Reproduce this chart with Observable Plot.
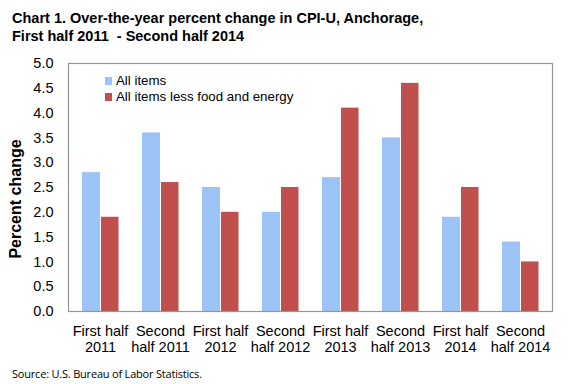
<!DOCTYPE html>
<html>
<head>
<meta charset="utf-8">
<script src="https://cdn.jsdelivr.net/npm/d3@7"></script>
<script src="https://cdn.jsdelivr.net/npm/@observablehq/plot@0.6"></script>
<style>
  html, body { margin: 0; padding: 0; background: #fff; }
  #wrap { position: relative; width: 576px; height: 384px; overflow: hidden; font-family: "Liberation Sans", Arial, sans-serif; color: #000; }
  #chart { position: absolute; left: 0; top: 0; }
  .title { position: absolute; left: 12px; top: 10px; font-weight: bold; font-size: 14.5px; line-height: 17.5px; white-space: nowrap; }
  .ylab { position: absolute; left: 16px; top: 199px; transform: translate(-50%, -50%) rotate(-90deg); font-weight: bold; font-size: 16px; white-space: nowrap; }
  .legend { position: absolute; left: 105px; top: 73px; font-size: 13.3px; line-height: 16px; }
  .legend div { position: relative; padding-left: 11px; white-space: nowrap; }
  .legend span { position: absolute; left: 0; top: 4px; width: 7px; height: 8px; }
  .source { position: absolute; left: 12px; top: 366px; font-family: "Open Sans", sans-serif; font-size: 11px; letter-spacing: -0.2px; white-space: nowrap; }
</style>
</head>
<body>
<div id="wrap">
  <div id="chart"></div>
  <div class="title">Chart 1. Over-the-year percent change in CPI-U, Anchorage,<br>First half 2011&nbsp; - Second half 2014</div>
  <div class="ylab">Percent change</div>
  <div class="legend" id="legend"></div>
  <div class="source">Source: U.S. Bureau of Labor Statistics.</div>
</div>
<script>
const periods = ["First half 2011", "Second half 2011", "First half 2012", "Second half 2012",
                 "First half 2013", "Second half 2013", "First half 2014", "Second half 2014"];
const periodLabels = ["First half\n2011", "Second\nhalf 2011", "First half\n2012", "Second\nhalf 2012",
                      "First half\n2013", "Second\nhalf 2013", "First half\n2014", "Second\nhalf 2014"];
const seriesNames = ["All items", "All items less food and energy"];
const allItems = [2.8, 3.6, 2.5, 2.0, 2.7, 3.5, 1.9, 1.4];
const coreItems = [1.9, 2.6, 2.0, 2.5, 4.1, 4.6, 2.5, 1.0];
const yTicks = [0, 0.5, 1, 1.5, 2, 2.5, 3, 3.5, 4, 4.5, 5];
const colors = ["#9cc3f5", "#c0504d"];

const rowsAll = periods.map((p, i) => ({period: p, series: seriesNames[0], value: allItems[i]}));
const rowsCore = periods.map((p, i) => ({period: p, series: seriesNames[1], value: coreItems[i]}));
const labelOf = new Map(periods.map((p, i) => [p, periodLabels[i]]));

const chart = Plot.plot({
  width: 576,
  height: 384,
  marginTop: 63,
  marginBottom: 73,
  marginLeft: 68,
  marginRight: 24,
  style: {fontFamily: "'Liberation Sans', Arial, sans-serif", fontSize: "14.5px", color: "#000", background: "transparent"},
  x: {domain: periods, padding: 0, label: null},
  y: {domain: [0, 5], label: null},
  color: {domain: seriesNames, range: colors},
  marks: [
    Plot.barY(rowsAll, {x: "period", y: "value", fill: "series", insetLeft: 12, insetRight: 30}),
    Plot.barY(rowsCore, {x: "period", y: "value", fill: "series", insetLeft: 31, insetRight: 11.5}),
    Plot.frame({stroke: "#8c9b8c", strokeWidth: 1.2}),
    Plot.axisY({ticks: yTicks, tickFormat: d3.format(".1f"), tickSize: 0, tickPadding: 15, label: null, fontSize: 14.5}),
    Plot.axisX({tickSize: 0, tickPadding: 13, tickFormat: d => labelOf.get(d), lineHeight: 1.12, label: null, fontSize: 14.5})
  ]
});
document.getElementById("chart").appendChild(chart);

const legend = document.getElementById("legend");
seriesNames.forEach((s, i) => {
  const row = document.createElement("div");
  const sw = document.createElement("span");
  sw.style.background = colors[i];
  row.appendChild(sw);
  row.appendChild(document.createTextNode(s));
  legend.appendChild(row);
});
</script>
</body>
</html>
